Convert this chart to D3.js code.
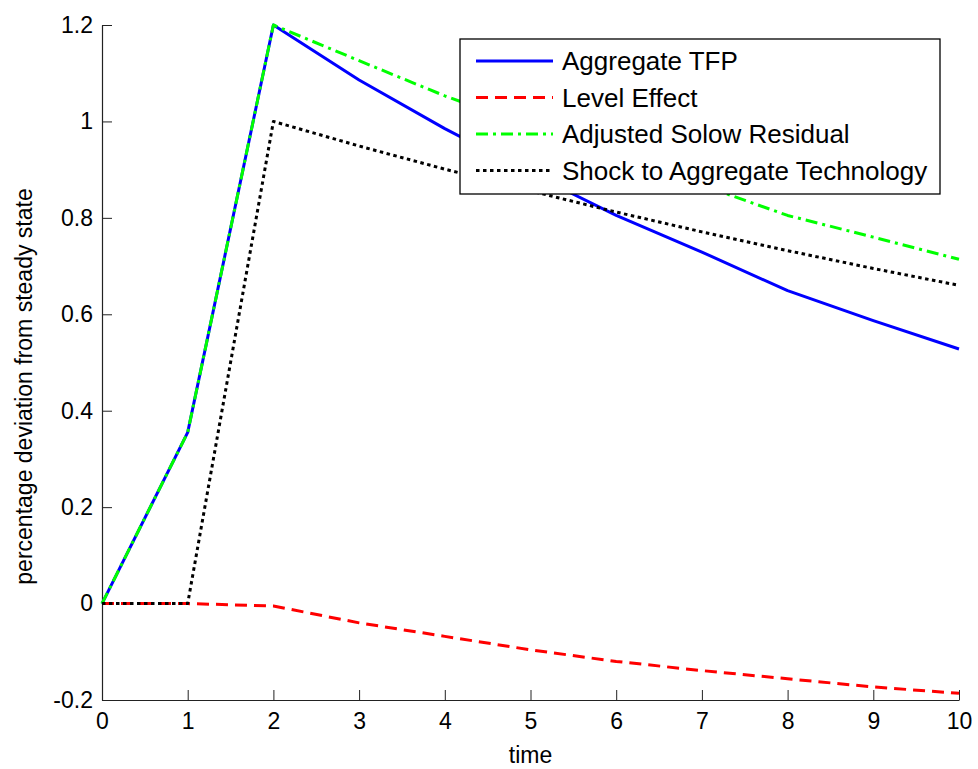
<!DOCTYPE html>
<html>
<head>
<meta charset="utf-8">
<script src="https://cdn.jsdelivr.net/npm/d3@7"></script>
<style>
  html, body { margin: 0; padding: 0; background: #fff; }
  svg { display: block; }
  text { font-family: "Liberation Sans", Arial, Helvetica, sans-serif; fill: #000; }
</style>
</head>
<body>
<svg id="chart" width="978" height="769"></svg>
<script>
// ---- data ----
const time = [0, 1, 2, 3, 4, 5, 6, 7, 8, 9, 10];
const aggregateTFP = [0, 0.355, 1.2, 1.086, 0.985, 0.893, 0.805, 0.729, 0.649, 0.587, 0.528];
const levelEffect = [0, 0, -0.005, -0.040, -0.068, -0.096, -0.120, -0.139, -0.156, -0.173, -0.186];
const adjustedSolow = [0, 0.355, 1.2, 1.126, 1.053, 0.989, 0.925, 0.868, 0.805, 0.760, 0.714];
const shockTech = [0, 0, 1.0, 0.949, 0.901, 0.856, 0.812, 0.771, 0.732, 0.695, 0.660];
const seriesNames = ["Aggregate TFP", "Level Effect", "Adjusted Solow Residual", "Shock to Aggregate Technology"];
const xTicks = [0, 1, 2, 3, 4, 5, 6, 7, 8, 9, 10];
const yTicks = [-0.2, 0, 0.2, 0.4, 0.6, 0.8, 1, 1.2];
const xLabel = "time";
const yLabel = "percentage deviation from steady state";

// ---- styles ----
const styles = [
  { color: "#0000ff", dash: null },
  { color: "#ff0000", dash: "12,7" },
  { color: "#00ff00", dash: "12,5,3,5" },
  { color: "#000000", dash: "3.5,3.5" }
];
const seriesValues = [aggregateTFP, levelEffect, adjustedSolow, shockTech];

const svg = d3.select("#chart");
const mLeft = 102, mRight = 959, mTop = 25, mBottom = 700;

const x = d3.scaleLinear().domain([0, 10]).range([mLeft, mRight]);
const y = d3.scaleLinear().domain([-0.2, 1.2]).range([mBottom, mTop]);

// axes
const yAxis = d3.axisLeft(y).tickValues(yTicks).tickSizeInner(-10).tickSizeOuter(0).tickPadding(9)
  .tickFormat(d => String(+d.toFixed(1)));
const xAxis = d3.axisBottom(x).tickValues(xTicks).tickSizeInner(-10).tickSizeOuter(0).tickPadding(13)
  .tickFormat(d3.format("d"));

const gy = svg.append("g").attr("transform", `translate(${mLeft},0)`).call(yAxis);
const gx = svg.append("g").attr("transform", `translate(0,${mBottom})`).call(xAxis);
[gx, gy].forEach(g => {
  g.selectAll("path.domain").attr("stroke", "#222").attr("stroke-width", 1.2);
  g.selectAll(".tick line").attr("stroke", "#222").attr("stroke-width", 1);
  g.selectAll(".tick text").attr("font-size", 23).attr("fill", "#000")
    .style("font-family", "'Liberation Sans', Arial, Helvetica, sans-serif");
});

// axis labels
svg.append("text").attr("x", (mLeft + mRight) / 2).attr("y", 763)
  .attr("text-anchor", "middle").attr("font-size", 23).text(xLabel);
svg.append("text").attr("transform", `translate(32,${(mTop + mBottom) / 2 + 24}) rotate(-90)`)
  .attr("text-anchor", "middle").attr("font-size", 23).text(yLabel);

// lines
const line = d3.line().x((d, i) => x(time[i])).y(d => y(d));
seriesValues.forEach((vals, k) => {
  svg.append("path")
    .datum(vals)
    .attr("d", line)
    .attr("fill", "none")
    .attr("stroke", styles[k].color)
    .attr("stroke-width", 3)
    .attr("stroke-linejoin", "round")
    .attr("stroke-dasharray", styles[k].dash);
});

// legend
const lg = svg.append("g");
lg.append("rect").attr("x", 460).attr("y", 39).attr("width", 480).attr("height", 155)
  .attr("fill", "#fff").attr("stroke", "#000").attr("stroke-width", 1.3);
seriesNames.forEach((name, k) => {
  const base = 70 + k * 36.5;
  lg.append("line").attr("x1", 476).attr("x2", 553).attr("y1", base - 9).attr("y2", base - 9)
    .attr("stroke", styles[k].color).attr("stroke-width", 3)
    .attr("stroke-dasharray", styles[k].dash);
  lg.append("text").attr("x", 562).attr("y", base).attr("font-size", 26).text(name);
});
</script>
</body>
</html>
